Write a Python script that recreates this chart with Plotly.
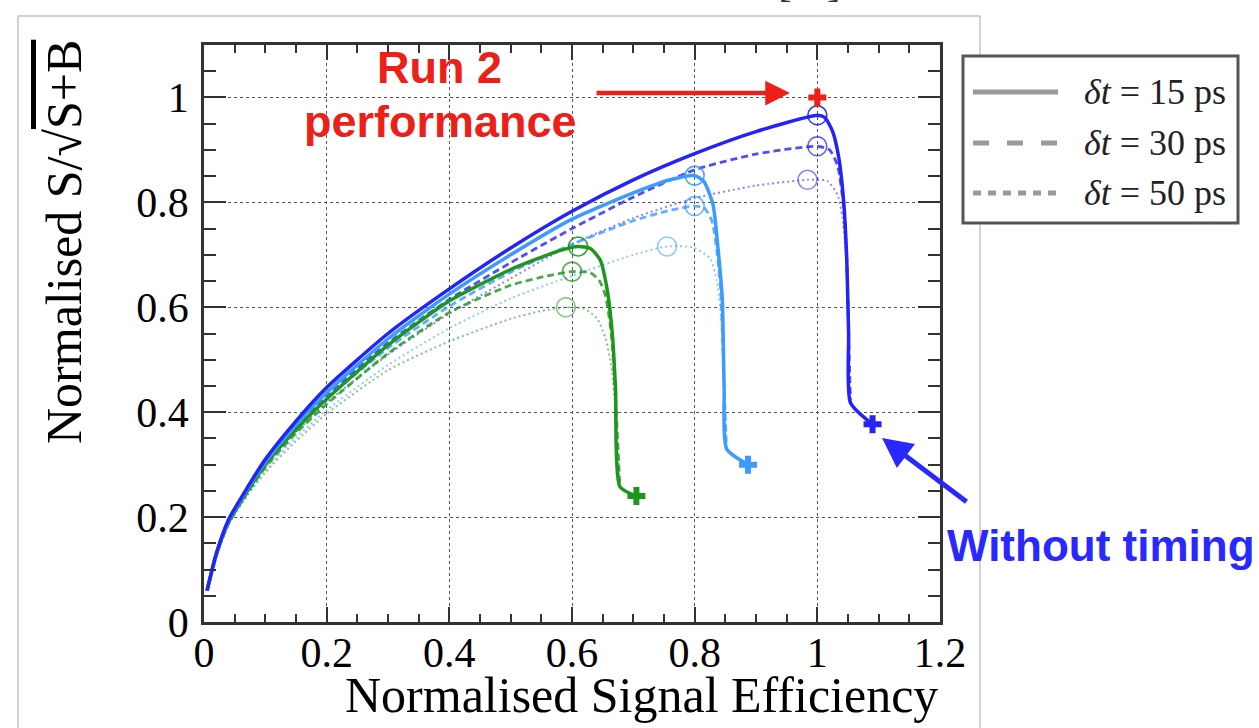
import plotly.graph_objects as go

# ---------------------------------------------------------------------------
# Normalised S/sqrt(S+B) versus normalised signal efficiency.
# Colour = signal scenario, line style = timing resolution (15 / 30 / 50 ps).
# ---------------------------------------------------------------------------

# blue scenario
eff_blue_15 = [0.005, 0.02, 0.04, 0.07, 0.10, 0.15, 0.20, 0.30, 0.40, 0.50, 0.60, 0.70, 0.80, 0.90,
               1.00, 1.012, 1.025, 1.035, 1.043, 1.048, 1.051, 1.054, 1.09]
sig_blue_15 = [0.06, 0.13, 0.195, 0.255, 0.31, 0.383, 0.447, 0.55, 0.635, 0.713, 0.783, 0.843, 0.893, 0.935,
               0.966, 0.962, 0.935, 0.885, 0.80, 0.69, 0.55, 0.418, 0.377]
eff_blue_30 = [0.005, 0.02, 0.04, 0.07, 0.10, 0.15, 0.20, 0.30, 0.40, 0.50, 0.60, 0.70, 0.80, 0.90,
               1.00, 1.02, 1.033, 1.043, 1.048, 1.051, 1.054]
sig_blue_30 = [0.06, 0.13, 0.194, 0.253, 0.305, 0.374, 0.433, 0.532, 0.615, 0.685, 0.75, 0.81, 0.862, 0.892,
               0.907, 0.90, 0.87, 0.79, 0.69, 0.55, 0.418]
eff_blue_50 = [0.005, 0.02, 0.04, 0.07, 0.10, 0.15, 0.20, 0.30, 0.40, 0.50, 0.60, 0.70, 0.80, 0.90,
               0.984, 1.016, 1.033, 1.041, 1.047, 1.051, 1.054]
sig_blue_50 = [0.06, 0.128, 0.19, 0.247, 0.297, 0.362, 0.418, 0.51, 0.588, 0.655, 0.72, 0.77, 0.808, 0.832,
               0.843, 0.841, 0.814, 0.77, 0.69, 0.55, 0.418]

# light-blue scenario
eff_lblue_15 = [0.005, 0.02, 0.04, 0.07, 0.10, 0.15, 0.20, 0.30, 0.40, 0.50, 0.60, 0.70, 0.76, 0.80,
                0.815, 0.83, 0.838, 0.845, 0.848, 0.852, 0.887]
sig_lblue_15 = [0.06, 0.13, 0.193, 0.252, 0.305, 0.376, 0.437, 0.54, 0.625, 0.70, 0.768, 0.818, 0.843, 0.851,
                0.84, 0.795, 0.713, 0.617, 0.45, 0.33, 0.30]
eff_lblue_30 = [0.005, 0.02, 0.04, 0.07, 0.10, 0.15, 0.20, 0.30, 0.40, 0.50, 0.60, 0.70, 0.76, 0.80,
                0.815, 0.828, 0.837, 0.843, 0.848, 0.852]
sig_lblue_30 = [0.06, 0.128, 0.19, 0.248, 0.30, 0.368, 0.426, 0.522, 0.602, 0.667, 0.72, 0.765, 0.785, 0.793,
                0.79, 0.765, 0.70, 0.62, 0.45, 0.33]
eff_lblue_50 = [0.005, 0.02, 0.04, 0.07, 0.10, 0.15, 0.20, 0.30, 0.40, 0.50, 0.60, 0.70, 0.755, 0.798,
                0.825, 0.836, 0.843, 0.848, 0.852]
sig_lblue_50 = [0.06, 0.126, 0.186, 0.242, 0.29, 0.352, 0.404, 0.49, 0.56, 0.617, 0.66, 0.70, 0.716, 0.714,
                0.693, 0.65, 0.58, 0.45, 0.33]

# green scenario
eff_green_15 = [0.005, 0.02, 0.04, 0.07, 0.10, 0.15, 0.20, 0.30, 0.40, 0.50, 0.58, 0.61, 0.63, 0.646,
                0.657, 0.666, 0.671, 0.678, 0.705]
sig_green_15 = [0.06, 0.128, 0.19, 0.248, 0.30, 0.367, 0.425, 0.528, 0.612, 0.672, 0.708, 0.716, 0.712, 0.69,
                0.636, 0.546, 0.444, 0.258, 0.24]
eff_green_30 = [0.005, 0.02, 0.04, 0.07, 0.10, 0.15, 0.20, 0.30, 0.40, 0.50, 0.56, 0.60, 0.63, 0.645,
                0.655, 0.664, 0.67, 0.678]
sig_green_30 = [0.06, 0.127, 0.188, 0.245, 0.295, 0.36, 0.415, 0.512, 0.59, 0.642, 0.66, 0.668, 0.666, 0.65,
                0.62, 0.55, 0.45, 0.258]
eff_green_50 = [0.005, 0.02, 0.04, 0.07, 0.10, 0.15, 0.20, 0.30, 0.40, 0.50, 0.55, 0.59, 0.62, 0.64,
                0.655, 0.665, 0.671, 0.678]
sig_green_50 = [0.06, 0.126, 0.185, 0.24, 0.285, 0.345, 0.397, 0.48, 0.535, 0.578, 0.593, 0.60, 0.597, 0.58,
                0.54, 0.48, 0.40, 0.258]

# optimum working points (open circles), order: 15, 30, 50 ps
opt_eff_blue = [1.00, 1.00, 0.984]
opt_sig_blue = [0.966, 0.907, 0.843]
opt_eff_lblue = [0.80, 0.80, 0.755]
opt_sig_lblue = [0.851, 0.793, 0.716]
opt_eff_green = [0.61, 0.60, 0.59]
opt_sig_green = [0.716, 0.668, 0.60]

# without timing (crosses), order: green, light blue, blue
notiming_eff = [0.705, 0.887, 1.09]
notiming_sig = [0.24, 0.30, 0.377]

# Run 2 reference point
run2_eff = [1.0]
run2_sig = [1.0]

legend_labels = ["<i>δt</i> = 15 ps", "<i>δt</i> = 30 ps", "<i>δt</i> = 50 ps"]

# ---------------------------------------------------------------------------
BLUE = "rgb(35,35,250)"
LBLUE = "rgb(60,155,255)"
GREEN = "rgb(30,150,30)"
RED = "rgb(236,32,22)"
SERIF = "Liberation Serif"
SANS = "Liberation Sans"

# plot area in pixels (used to place decorations outside the axes)
L, R, T, B = 204, 940, 45, 622
W, H = 1259, 728


def px(x):
    return (x - L) / (R - L)


def py(y):
    return (B - y) / (B - T)


styles = {
    "15": dict(width=3.5, dash="solid", opacity=1.0),
    "30": dict(width=2.8, dash="7px,4px", opacity=0.8),
    "50": dict(width=2.0, dash="2px,3px", opacity=0.55),
}

curves = [
    ("50", GREEN, eff_green_50, sig_green_50),
    ("50", LBLUE, eff_lblue_50, sig_lblue_50),
    ("50", BLUE, eff_blue_50, sig_blue_50),
    ("30", GREEN, eff_green_30, sig_green_30),
    ("30", LBLUE, eff_lblue_30, sig_lblue_30),
    ("30", BLUE, eff_blue_30, sig_blue_30),
    ("15", GREEN, eff_green_15, sig_green_15),
    ("15", LBLUE, eff_lblue_15, sig_lblue_15),
    ("15", BLUE, eff_blue_15, sig_blue_15),
]

fig = go.Figure()

for res, col, xs, ys in curves:
    st = styles[res]
    fig.add_trace(go.Scatter(
        x=xs, y=ys, mode="lines", opacity=st["opacity"],
        line=dict(color=col, width=st["width"], dash=st["dash"], shape="spline", smoothing=0.6),
        hoverinfo="skip", showlegend=False,
    ))

circle_opac = [0.9, 0.75, 0.55]
for col, xs, ys in [(GREEN, opt_eff_green, opt_sig_green),
                    (LBLUE, opt_eff_lblue, opt_sig_lblue),
                    (BLUE, opt_eff_blue, opt_sig_blue)]:
    for i in range(3):
        fig.add_trace(go.Scatter(
            x=[xs[i]], y=[ys[i]], mode="markers", opacity=circle_opac[i],
            marker=dict(symbol="circle-open", size=19, color=col, line=dict(width=1.6, color=col)),
            hoverinfo="skip", showlegend=False,
        ))

fig.add_trace(go.Scatter(
    x=notiming_eff, y=notiming_sig, mode="markers",
    marker=dict(symbol="cross", size=15, color=[GREEN, LBLUE, BLUE], line=dict(width=0)),
    hoverinfo="skip", showlegend=False,
))
fig.add_trace(go.Scatter(
    x=run2_eff, y=run2_sig, mode="markers",
    marker=dict(symbol="cross", size=15, color=RED, line=dict(width=0)),
    hoverinfo="skip", showlegend=False,
))

axis_common = dict(
    showline=True, linewidth=2.5, linecolor="#333", mirror="ticks",
    ticks="inside", tickwidth=2, tickcolor="#333",
    showgrid=True, gridcolor="#555", griddash="dot", gridwidth=1,
    zeroline=False,
    tickfont=dict(family=SERIF, size=42, color="black"),
)

fig.update_xaxes(
    range=[0, 1.2], tick0=0, dtick=0.2, ticklen=15, ticklabelstandoff=-8,
    minor=dict(dtick=0.05, ticks="inside", ticklen=8, tickwidth=1.5, tickcolor="#333", showgrid=False),
    **axis_common,
)
fig.update_yaxes(
    range=[0, 1.1], tick0=0, dtick=0.2, ticklen=22, ticklabelstandoff=4,
    minor=dict(dtick=0.05, ticks="inside", ticklen=12, tickwidth=1.5, tickcolor="#333", showgrid=False),
    **axis_common,
)

shapes = [
    # outer canvas frame
    dict(type="rect", xref="paper", yref="paper", x0=px(18), x1=px(980), y0=py(740), y1=py(16),
         line=dict(color="#c4c4c4", width=1.5), fillcolor="rgba(0,0,0,0)", layer="below"),
    # legend box
    dict(type="rect", xref="paper", yref="paper", x0=px(963), x1=px(1238), y0=py(223), y1=py(56),
         line=dict(color="#555", width=3), fillcolor="white", layer="above"),
]
legend_dash = ["solid", "16px,18px", "8px,7px"]
legend_y = [92, 143, 193]
for d, yy in zip(legend_dash, legend_y):
    shapes.append(dict(type="line", xref="paper", yref="paper", x0=px(973), x1=px(1058),
                       y0=py(yy), y1=py(yy), line=dict(color="#999", width=5, dash=d), layer="above"))

annotations = []
for lab, yy in zip(legend_labels, legend_y):
    annotations.append(dict(xref="paper", yref="paper", x=px(1082), y=py(yy), xanchor="left", yanchor="middle",
                            text=lab, showarrow=False, font=dict(family=SERIF, size=36, color="#222")))

annotations += [
    # axis titles
    dict(xref="paper", yref="paper", x=px(940), y=py(695), xanchor="right", yanchor="middle",
         text="Normalised Signal Efficiency", showarrow=False,
         font=dict(family=SERIF, size=50, color="black")),
    dict(xref="paper", yref="paper", x=px(64), y=py(38), xanchor="center", yanchor="top", textangle=-90,
         text="Normalised S/√<span style=\"text-decoration:overline\">S+B</span>", showarrow=False,
         font=dict(family=SERIF, size=50, color="black")),
    # clipped label from the panel above
    dict(xref="paper", yref="paper", x=px(798), y=py(8), xanchor="center", yanchor="bottom",
         text="<i>t</i> [ns]", showarrow=False, font=dict(family=SERIF, size=40, color="#333")),
    # Run 2 label and arrow
    dict(xref="paper", yref="paper", x=px(439), y=py(67), xanchor="center", yanchor="middle",
         text="<b>Run 2</b>", showarrow=False, font=dict(family=SANS, size=45, color=RED)),
    dict(xref="paper", yref="paper", x=px(440), y=py(122), xanchor="center", yanchor="middle",
         text="<b>performance</b>", showarrow=False, font=dict(family=SANS, size=45, color=RED)),
    dict(xref="x", yref="y", x=(790 - L) / (R - L) * 1.2, y=(B - 93) / (B - T) * 1.1, text="",
         showarrow=True, ax=-195, ay=0, arrowcolor=RED, arrowwidth=4.5, arrowhead=2, arrowsize=1.1),
    # without-timing label and arrow
    dict(xref="paper", yref="paper", x=px(945), y=py(545), xanchor="left", yanchor="middle",
         text="<b>Without timing</b>", showarrow=False, font=dict(family=SANS, size=44, color="rgb(40,40,255)")),
    dict(xref="x", yref="y", x=(882 - L) / (R - L) * 1.2, y=(B - 438) / (B - T) * 1.1, text="",
         showarrow=True, ax=86, ay=65, arrowcolor="rgb(40,40,255)", arrowwidth=5, arrowhead=2, arrowsize=1.2),
]

fig.update_layout(
    width=W, height=H,
    margin=dict(l=L, r=W - R, t=T, b=H - B),
    paper_bgcolor="white", plot_bgcolor="white",
    showlegend=False,
    shapes=shapes, annotations=annotations,
)

fig.write_html("out.html")
